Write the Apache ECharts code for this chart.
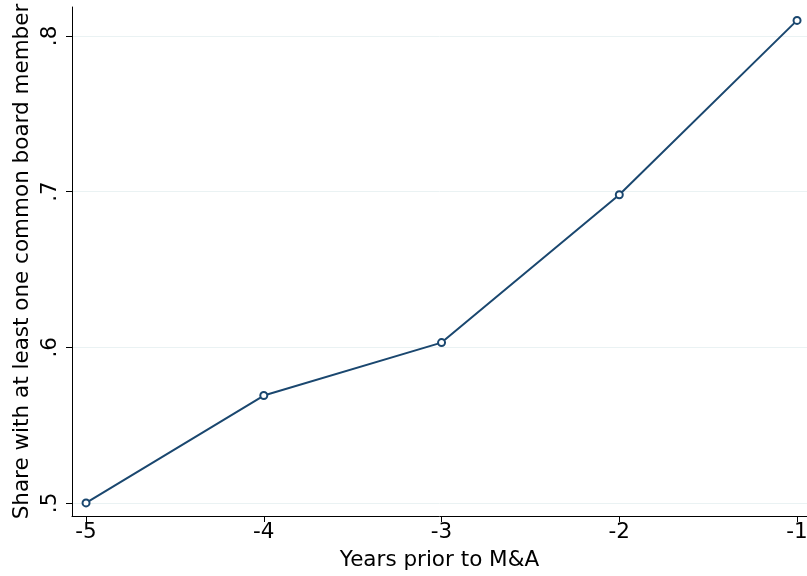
<!DOCTYPE html>
<html><head><meta charset="utf-8">
<script src="https://cdn.jsdelivr.net/npm/echarts@6/dist/echarts.min.js"></script>
<style>html,body{margin:0;padding:0;background:#fff;overflow:hidden}#c{width:807px;height:576px}</style>
</head><body><div id="c"></div>
<script>
const years = [-5, -4, -3, -2, -1];
const share = [0.500, 0.569, 0.603, 0.698, 0.810];
const xTicks = [-5, -4, -3, -2, -1];
const yTicks = [0.5, 0.6, 0.7, 0.8];
const yTickLabels = ['.5', '.6', '.7', '.8'];

const chart = echarts.init(document.getElementById('c'), null, {renderer: 'canvas'});
const font = 'DejaVu Sans';
chart.setOption({
  animation: false,
  backgroundColor: '#ffffff',
  grid: {left: 72, right: 0, top: 7, bottom: 60, containLabel: false, outerBoundsMode: 'none'},
  xAxis: {
    type: 'value', min: -5.079, max: -0.944,
    name: 'Years prior to M&A', nameLocation: 'middle', nameGap: 33, nameMoveOverlap: false,
    nameTextStyle: {fontFamily: font, fontSize: 21.5, color: '#000'},
    axisLine: {show: true, onZero: false, lineStyle: {color: '#000', width: 1}},
    axisTick: {show: true, length: 6, lineStyle: {color: '#000'}, customValues: xTicks},
    axisLabel: {fontFamily: font, fontSize: 21.5, color: '#000', margin: 5, customValues: xTicks,
      formatter: v => String(v)},
    splitLine: {show: false}
  },
  yAxis: {
    type: 'value', min: 0.4916, max: 0.8186,
    name: 'Share with at least one common board member', nameLocation: 'middle', nameGap: 39, nameMoveOverlap: false,
    nameTextStyle: {fontFamily: font, fontSize: 21.5, color: '#000'},
    axisLine: {show: true, onZero: false, lineStyle: {color: '#000', width: 1}},
    axisTick: {show: true, length: 6, lineStyle: {color: '#000'}, customValues: yTicks},
    axisLabel: {fontFamily: font, fontSize: 21.5, color: '#000', margin: 11, rotate: 90,
      customValues: yTicks,
      formatter: v => yTickLabels[yTicks.findIndex(t => Math.abs(t - v) < 1e-6)] ?? ''},
    splitLine: {show: true, lineStyle: {color: '#eaf2f3', width: 1}}
  },
  series: [{
    type: 'line', data: years.map((x, i) => [x, share[i]]),
    lineStyle: {color: '#1a476f', width: 2},
    itemStyle: {color: '#ffffff', borderColor: '#1a476f', borderWidth: 2},
    symbol: 'circle', symbolSize: 7, showSymbol: true
  }]
});
</script></body></html>
